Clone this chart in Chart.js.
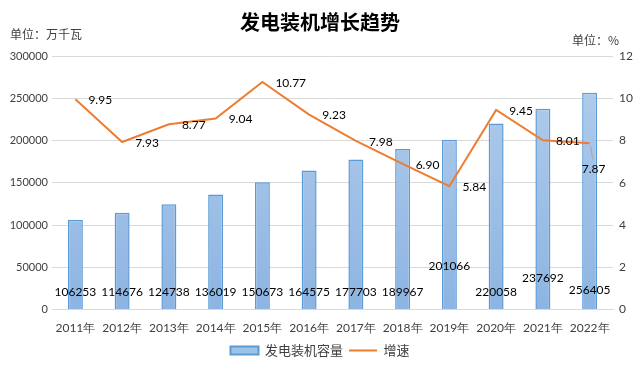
<!DOCTYPE html>
<html>
<head>
<meta charset="utf-8">
<title>发电装机增长趋势</title>
<script src="https://cdn.jsdelivr.net/npm/chart.js@4.4.0/dist/chart.umd.min.js"></script>
<style>
  html, body { margin: 0; padding: 0; background: #fff; }
  #wrap { width: 640px; height: 375px; }
</style>
</head>
<body>
<div id="wrap"><canvas id="grafica"></canvas></div>
<script>
/* Datos */
const years    = ['2011年', '2012年', '2013年', '2014年', '2015年', '2016年', '2017年', '2018年', '2019年', '2020年', '2021年', '2022年'];
const capacity = [106253, 114676, 124738, 136019, 150673, 164575, 177703, 189967, 201066, 220058, 237692, 256405];
const growth   = [9.95, 7.93, 8.77, 9.04, 10.77, 9.23, 7.98, 6.90, 5.84, 9.45, 8.01, 7.87];

const leftMax = 300000, leftStep = 50000;
const rightMax = 12, rightStep = 2;

/* Ajustes de estilo de etiquetas (no son datos) */
const capLabelLift = [0, 0, 0, 0, 0, 0, 0, 0, 26, 0, 14, 2];
const growthLabelBelow = [false, false, false, false, false, false, false, false, false, false, false, true];

const naranja = '#ED7D31';
const gris = '#404040';
const fontCJK = '"Noto Sans CJK SC", sans-serif';
const fontNum = 'Lato, "Noto Sans", sans-serif';

/*
 * Dibuja título, unidades y etiquetas de valores.
 */
const extras = {
  id: 'extras',
  afterDatasetsDraw(chart) {
    const { ctx } = chart;
    const barMeta = chart.getDatasetMeta(0);
    const lineMeta = chart.getDatasetMeta(1);
    const base = chart.scales.y.getPixelForValue(0);

    ctx.save();
    ctx.font = '12px ' + fontNum;
    ctx.fillStyle = '#000';
    ctx.textAlign = 'center';
    ctx.textBaseline = 'middle';
    barMeta.data.forEach((bar, i) => {
      ctx.fillText(String(capacity[i]), bar.x, base - 17 - capLabelLift[i]);
    });

    lineMeta.data.forEach((pt, i) => {
      const txt = growth[i].toFixed(2);
      if (growthLabelBelow[i]) {
        ctx.strokeStyle = '#A6A6A6';
        ctx.lineWidth = 1;
        ctx.beginPath();
        ctx.moveTo(pt.x + 1, pt.y + 3);
        ctx.lineTo(pt.x + 3, pt.y + 16);
        ctx.stroke();
        ctx.textAlign = 'center';
        ctx.fillText(txt, pt.x + 4, pt.y + 26);
      } else {
        ctx.textAlign = 'left';
        ctx.fillText(txt, pt.x + 13, pt.y + 1);
      }
    });

    ctx.textAlign = 'center';
    ctx.font = 'bold 20px ' + fontCJK;
    ctx.fillStyle = '#000';
    ctx.fillText('发电装机增长趋势', 320, 22);

    ctx.font = '12px ' + fontCJK;
    ctx.fillStyle = gris;
    ctx.textAlign = 'left';
    ctx.fillText('单位：万千瓦', 10, 34);
    ctx.fillText('单位：%', 572, 40);
    ctx.restore();
  }
};

const ctx = document.getElementById('grafica').getContext('2d');

new Chart(ctx, {
  type: 'bar',
  data: {
    labels: years,
    datasets: [
      {
        type: 'bar',
        label: '发电装机容量',
        data: capacity,
        yAxisID: 'y',
        order: 1,
        backgroundColor: (c) => {
          const area = c.chart.chartArea;
          if (!area) return '#9DC3E6';
          const g = c.chart.ctx.createLinearGradient(0, area.top, 0, area.bottom);
          g.addColorStop(0, '#B4CEEC');
          g.addColorStop(1, '#8DB4E2');
          return g;
        },
        borderColor: '#5B9BD5',
        borderWidth: 1.5,
        barPercentage: 0.32,
        categoryPercentage: 1
      },
      {
        type: 'line',
        label: '增速',
        data: growth,
        yAxisID: 'y1',
        order: 0,
        borderColor: naranja,
        backgroundColor: naranja,
        borderWidth: 2,
        pointRadius: 0,
        tension: 0
      }
    ]
  },
  options: {
    responsive: true,
    maintainAspectRatio: false,
    animation: false,
    layout: { padding: { top: 56, left: 0, right: 0, bottom: 8 } },
    plugins: {
      title: { display: false },
      tooltip: { enabled: false },
      legend: {
        position: 'bottom',
        labels: {
          usePointStyle: true,
          pointStyleWidth: 28,
          boxHeight: 8,
          padding: 6,
          color: gris,
          font: { size: 13, family: fontCJK },
          generateLabels: (chart) => chart.data.datasets.map((ds, i) => ({
            text: ds.label,
            datasetIndex: i,
            fillStyle: i === 0 ? '#9DC3E6' : naranja,
            strokeStyle: i === 0 ? '#5B9BD5' : naranja,
            lineWidth: 2,
            pointStyle: i === 0 ? 'rect' : 'line',
            fontColor: gris
          }))
        }
      }
    },
    scales: {
      x: {
        grid: { display: false },
        border: { color: '#D9D9D9' },
        ticks: { color: gris, font: { size: 12, family: fontNum }, padding: 3, maxRotation: 0 }
      },
      y: {
        position: 'left',
        min: 0,
        max: leftMax,
        ticks: { stepSize: leftStep, color: gris, font: { size: 11, family: fontNum }, padding: 4, callback: (v) => String(v) },
        grid: { color: '#D9D9D9', drawTicks: false },
        border: { display: false },
        afterFit: (s) => { s.width = 52; }
      },
      y1: {
        position: 'right',
        min: 0,
        max: rightMax,
        ticks: { stepSize: rightStep, color: gris, font: { size: 12, family: fontNum }, padding: 6 },
        grid: { display: false, drawTicks: false },
        border: { display: false },
        afterFit: (s) => { s.width = 27; }
      }
    }
  },
  plugins: [extras]
});
</script>
</body>
</html>
